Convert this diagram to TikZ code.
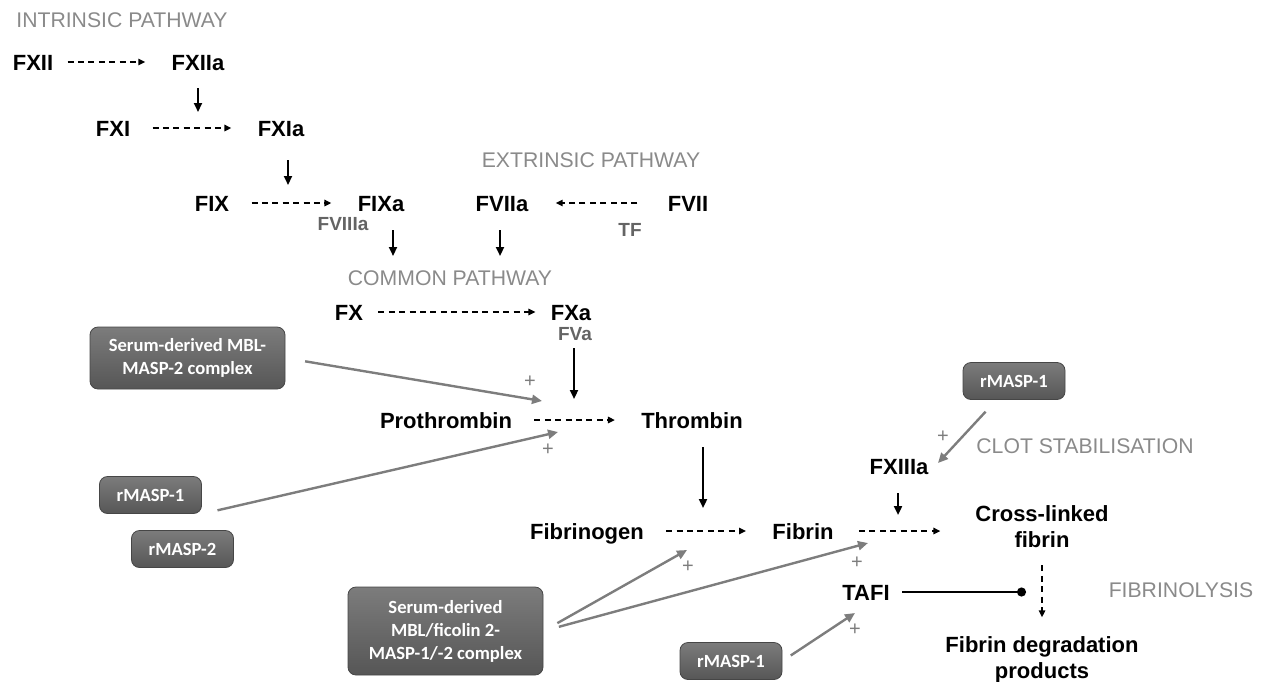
\documentclass[tikz,border=0pt]{standalone}
\usepackage{fontspec}
\setmainfont{Liberation Sans}
\newfontfamily\boxfont{Carlito}
\usetikzlibrary{arrows.meta}
\definecolor{boxtop}{RGB}{124,124,124}
\definecolor{boxbot}{RGB}{86,86,86}
\definecolor{boxline}{RGB}{70,70,70}
\definecolor{headgray}{RGB}{138,138,138}
\definecolor{labgray}{RGB}{100,100,100}
\definecolor{linkgray}{RGB}{125,125,125}
\tikzset{
  fac/.style={inner sep=0pt, font=\fontsize{11}{13}\selectfont\bfseries, text height=8pt, text depth=0pt},
  prod/.style={inner sep=0pt, font=\fontsize{11}{13}\selectfont\bfseries, align=center},
  cof/.style={inner sep=0pt, font=\fontsize{9.5}{11}\selectfont\bfseries, text=labgray, text height=6.9pt, text depth=0pt},
  head/.style={inner sep=0pt, font=\fontsize{10.6}{12}\selectfont, text=headgray, text height=7.6pt, text depth=0pt},
  plus/.style={inner sep=0pt, font=\fontsize{10}{12}\selectfont, text=linkgray},
  enz/.style={draw=boxline, line width=0.4pt, rounded corners=4pt, top color=boxtop, bottom color=boxbot,
    text=white, font=\boxfont\fontsize{9.3}{11.5}\selectfont\bfseries, align=center, inner sep=0pt},
  rbox/.style={enz, minimum width=51pt, minimum height=18.5pt},
  conv/.style={-{Triangle[length=3.5pt,width=3.2pt]}, line width=0.8pt, dash pattern=on 3pt off 2.2pt,
    shorten <=11pt, shorten >=13pt},
  act/.style={-{Triangle[length=4.5pt,width=4pt]}, line width=1.1pt, shorten <=9.5pt},
  boost/.style={-{Triangle[length=5pt,width=4.5pt]}, draw=linkgray, line width=1.2pt},
  inhib/.style={-{Circle[length=4.5pt]}, line width=1.1pt}
}
\begin{document}
\begin{tikzpicture}[x=0.5pt,y=-0.5pt]
\useasboundingbox (0,0) rectangle (1264,681);
\node[head] (inth) at (122,20) {INTRINSIC PATHWAY};
\node[head] (exth) at (591,160) {EXTRINSIC PATHWAY};
\node[head] (comh) at (450,278) {COMMON PATHWAY};
\node[head] (cloth) at (1085,446) {CLOT STABILISATION};
\node[head] (lysh) at (1181,590) {FIBRINOLYSIS};

\node[fac] (fxii) at (33,62) {FXII};
\node[fac] (fxiia) at (198,62) {FXIIa};
\node[fac] (fxi) at (113,128) {FXI};
\node[fac] (fxia) at (281,128) {FXIa};
\node[fac] (fix) at (212,203) {FIX};
\node[fac] (fixa) at (381,203) {FIXa};
\node[cof] (fviiia) at (343,224) {FVIIIa};
\node[fac] (fviia) at (502,203) {FVIIa};
\node[fac] (fvii) at (688,203) {FVII};
\node[cof] (tf) at (630,230) {TF};
\node[fac] (fx) at (349,312) {FX};
\node[fac] (fxa) at (571,312) {FXa};
\node[cof] (fva) at (575,334) {FVa};
\node[fac] (proth) at (446,420) {Prothrombin};
\node[fac] (thromb) at (692,420) {Thrombin};
\node[fac] (fbg) at (587,531) {Fibrinogen};
\node[fac] (fbn) at (803,531) {Fibrin};
\node[fac] (fxiiia) at (899,466) {FXIIIa};
\node[prod] (xlink) at (1042,527) {Cross-linked\\fibrin};
\node[fac] (tafi) at (866,592) {TAFI};
\node[prod] (fdp) at (1042,660) {Fibrin degradation\\products};

\node[enz, minimum width=97.5pt, minimum height=31pt] (mbl) at (187.5,358) {Serum-derived MBL-\\MASP-2 complex};
\node[rbox] (rm1) at (150.5,495) {rMASP-1};
\node[rbox] (rm2) at (182.5,549) {rMASP-2};
\node[enz, minimum width=97.5pt, minimum height=44pt] (mblf) at (445.5,631) {Serum-derived\\MBL/ficolin 2-\\MASP-1/-2 complex};
\node[rbox] (rm3) at (731,661) {rMASP-1};
\node[rbox] (rm4) at (1014,381) {rMASP-1};

\coordinate (r1) at (198,112);
\coordinate (r2) at (288,185);
\coordinate (r3) at (393,256);
\coordinate (r4) at (500,256);
\coordinate (r5) at (574,399);
\coordinate (r6) at (703,508);
\coordinate (r7) at (898,515);
\coordinate (p1) at (542,401);
\coordinate (p2) at (558,432);
\coordinate (p3) at (687,550);
\coordinate (p4) at (868,543);
\coordinate (p5) at (855,613);
\coordinate (p6) at (938,463);
\coordinate (stop) at (1026,592);

\foreach \p/\q [count=\i] in {530/382,548/450,688/567,857/563,855/630,943/437}
  \node[plus] (pl\i) at (\p,\q) {+};

\draw[conv, shorten <=7pt] (fxii) -- (fxiia);
\draw[conv] (fxi) -- (fxia);
\draw[conv] (fix) -- (fixa);
\draw[conv, shorten <=15pt, shorten >=13.5pt] (fvii) -- (fviia);
\draw[conv, shorten <=7.5pt, shorten >=7.5pt] (fx) -- (fxa);
\draw[conv] (proth) -- (thromb);
\draw[conv] (fbg) -- (fbn);
\draw[conv, shorten <=12.5pt, shorten >=17.3pt] (fbn) -- (fbn -| xlink.west);
\draw[conv, shorten <=8.5pt, shorten >=9.5pt] (xlink) -- (fdp);

\draw[act, shorten <=9pt] (fxiia) -- (r1);
\draw[act, shorten <=12pt] (fxia.south -| r2) -- (r2);
\draw[act] (fixa.south -| r3) -- (r3);
\draw[act] (fviia.south -| r4) -- (r4);
\draw[act, shorten <=3.5pt] (fva.south -| r5) -- (r5);
\draw[act] (thromb.south -| r6) -- (r6);
\draw[act] (fxiiia.south -| r7) -- (r7);

\draw[boost, shorten <=10pt] (mbl.east) -- (p1);
\draw[boost, shorten <=8pt] (rm1.south east) -- (p2);
\draw[boost, shorten <=8pt] (mblf.east) -- (p3);
\draw[boost, shorten <=8pt] (mblf.east) -- (p4);
\draw[boost, shorten <=5pt] (rm3.east) -- (p5);
\draw[boost, shorten <=8pt] (rm4) -- (p6);

\draw[inhib, shorten <=6pt] (tafi) -- (stop);
\end{tikzpicture}
\end{document}
